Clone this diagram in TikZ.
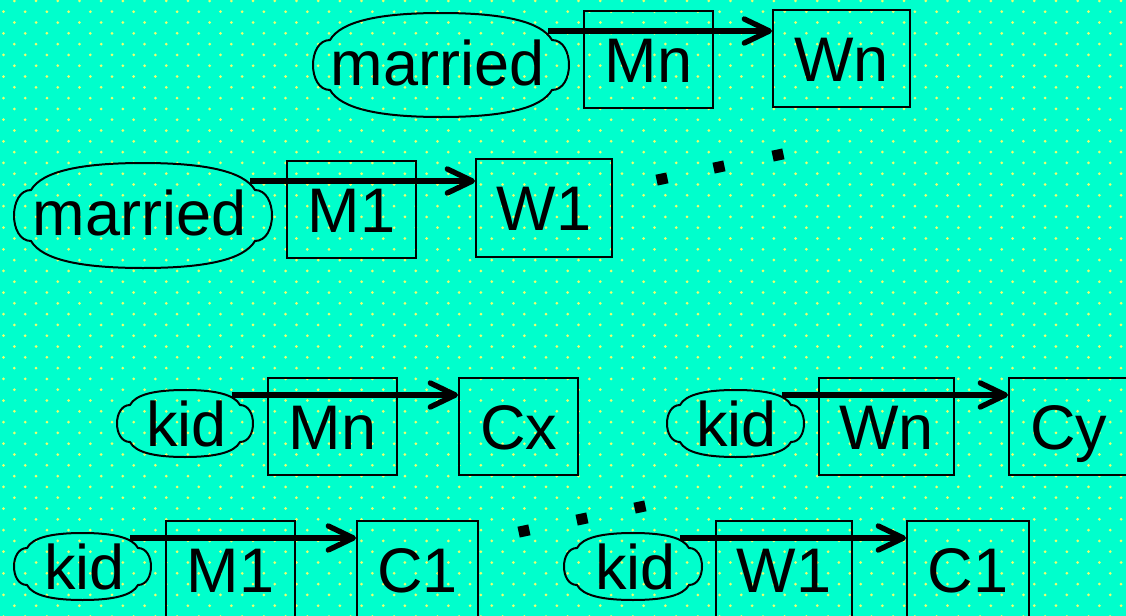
\documentclass[tikz,border=0pt]{standalone}
\usepackage{fontspec}
\setmainfont{Liberation Sans}
\usetikzlibrary{arrows.meta}
\definecolor{bgc}{RGB}{0,255,204}
\definecolor{dotc}{RGB}{235,255,110}
\newcommand\cloudpath[6]{%
  \pgfmathsetmacro\cxa{#1+#5}%
  \pgfmathsetmacro\cxb{#3-#5}%
  \pgfmathsetmacro\cxm{(#1+#3)/2}%
  \pgfmathsetmacro\cct{#2+#6}%
  \pgfmathsetmacro\ccb{#4-#6}%
  \pgfmathsetmacro\cL{\cxm-\cxa}%
  \pgfmathsetmacro\ce{4*#5/3}%
  \draw[cloudline] (\cxa,\cct)
    .. controls ({\cxa+0.1*\cL},{#2+0.3*#6}) and ({\cxa+0.45*\cL},#2) .. (\cxm,#2)
    .. controls ({\cxb-0.45*\cL},#2) and ({\cxb-0.1*\cL},{#2+0.3*#6}) .. (\cxb,\cct)
    .. controls ({\cxb+\ce},\cct) and ({\cxb+\ce},\ccb) .. (\cxb,\ccb)
    .. controls ({\cxb-0.1*\cL},{#4-0.3*#6}) and ({\cxb-0.45*\cL},#4) .. (\cxm,#4)
    .. controls ({\cxa+0.45*\cL},#4) and ({\cxa+0.1*\cL},{#4-0.3*#6}) .. (\cxa,\ccb)
    .. controls ({\cxa-\ce},\ccb) and ({\cxa-\ce},\cct) .. (\cxa,\cct) -- cycle;}
\newcommand\bx[6]{%
  \node[bx, minimum width={(#4-#2)*0.5pt}, minimum height={(#5-#3)*0.5pt}]
    (#1) at ({(#2+#4)/2},{(#3+#5)/2}) {#6};}
\newcommand\sqdot[2]{%
  \fill[rotate around={12:(#1,#2)}] ({#1-5.5},{#2-5.5}) rectangle ({#1+5.5},{#2+5.5});}
\begin{document}
\begin{tikzpicture}[x=0.5pt,y=-0.5pt,
  lbl/.style={inner sep=0pt, font=\fontsize{31.5}{36}\selectfont, text height=22.6pt, text depth=0pt},
  bx/.style={lbl, draw, line width=1pt},
  cloudline/.style={draw, line width=1pt, line join=round},
  arr/.style={line width=2.7pt, -{Straight Barb[length=12.5pt, width=12pt, line cap=round, line join=round]}}]
\useasboundingbox (0,0) rectangle (1126,616);
\clip (0,0) rectangle (1126,616);
\fill[bgc] (0,0) rectangle (1126,616);
\foreach \r in {0,...,57}{%
  \pgfmathsetmacro\yy{0.9+\r*10.8}%
  \pgfmathsetmacro\off{mod(\r+1,2)*10.85}%
  \foreach \c in {0,...,52}{%
    \fill[dotc] ({3.5+\off+\c*21.7},\yy) circle (0.75pt);}}
% clouds
\cloudpath{313}{13}{569}{117}{17}{27}
\cloudpath{14}{163}{272}{268}{17}{27}
\cloudpath{117}{390}{253}{457}{13}{15}
\cloudpath{667}{390}{804}{457}{13}{15}
\cloudpath{14}{533}{151}{600}{13}{15}
\cloudpath{564}{533}{702}{600}{13}{15}
\node[lbl] (t1) at (437.5,62.5) {married};
\node[lbl] (t2) at (139.5,212.5) {married};
\node[lbl] (k1) at (186.5,424) {kid};
\node[lbl] (k2) at (736.5,424) {kid};
\node[lbl] (k3) at (84.5,567) {kid};
\node[lbl] (k4) at (635.5,567) {kid};
% boxes
\bx{Mna}{584}{11}{713}{108}{Mn}
\bx{Wna}{773}{10}{910}{107}{Wn}
\bx{Ma}{287}{161}{416}{258}{M1}
\bx{Wa}{476}{159}{612}{257}{W1}
\bx{Mnb}{268}{378}{397}{475}{Mn}
\bx{Cx}{459}{378}{578}{475}{Cx}
\bx{Wnb}{819}{378}{954}{475}{Wn}
\bx{Cy}{1009}{378}{1129}{475}{Cy}
\bx{Mb}{166}{521}{295}{618}{M1}
\bx{Ca}{357}{521}{478}{618}{C1}
\bx{Wb}{716}{521}{852}{618}{W1}
\bx{Cb}{907}{521}{1029}{618}{C1}
% arrows
\coordinate (s1) at (548,31);
\coordinate (s2) at (250,181);
\coordinate (s3) at (232,395);
\coordinate (s4) at (782,395);
\coordinate (s5) at (130,538);
\coordinate (s6) at (680,538);
\draw[arr] (s1) -- (s1 -| Wna.west);
\draw[arr] (s2) -- (s2 -| Wa.west);
\draw[arr] (s3) -- (s3 -| Cx.west);
\draw[arr] (s4) -- (s4 -| Cy.west);
\draw[arr] (s5) -- (s5 -| Ca.west);
\draw[arr] (s6) -- (s6 -| Cb.west);
% ellipsis dots
\sqdot{662}{179}\sqdot{719}{167}\sqdot{778}{155}
\sqdot{524}{531}\sqdot{582}{519}\sqdot{640}{507}
\end{tikzpicture}
\end{document}
